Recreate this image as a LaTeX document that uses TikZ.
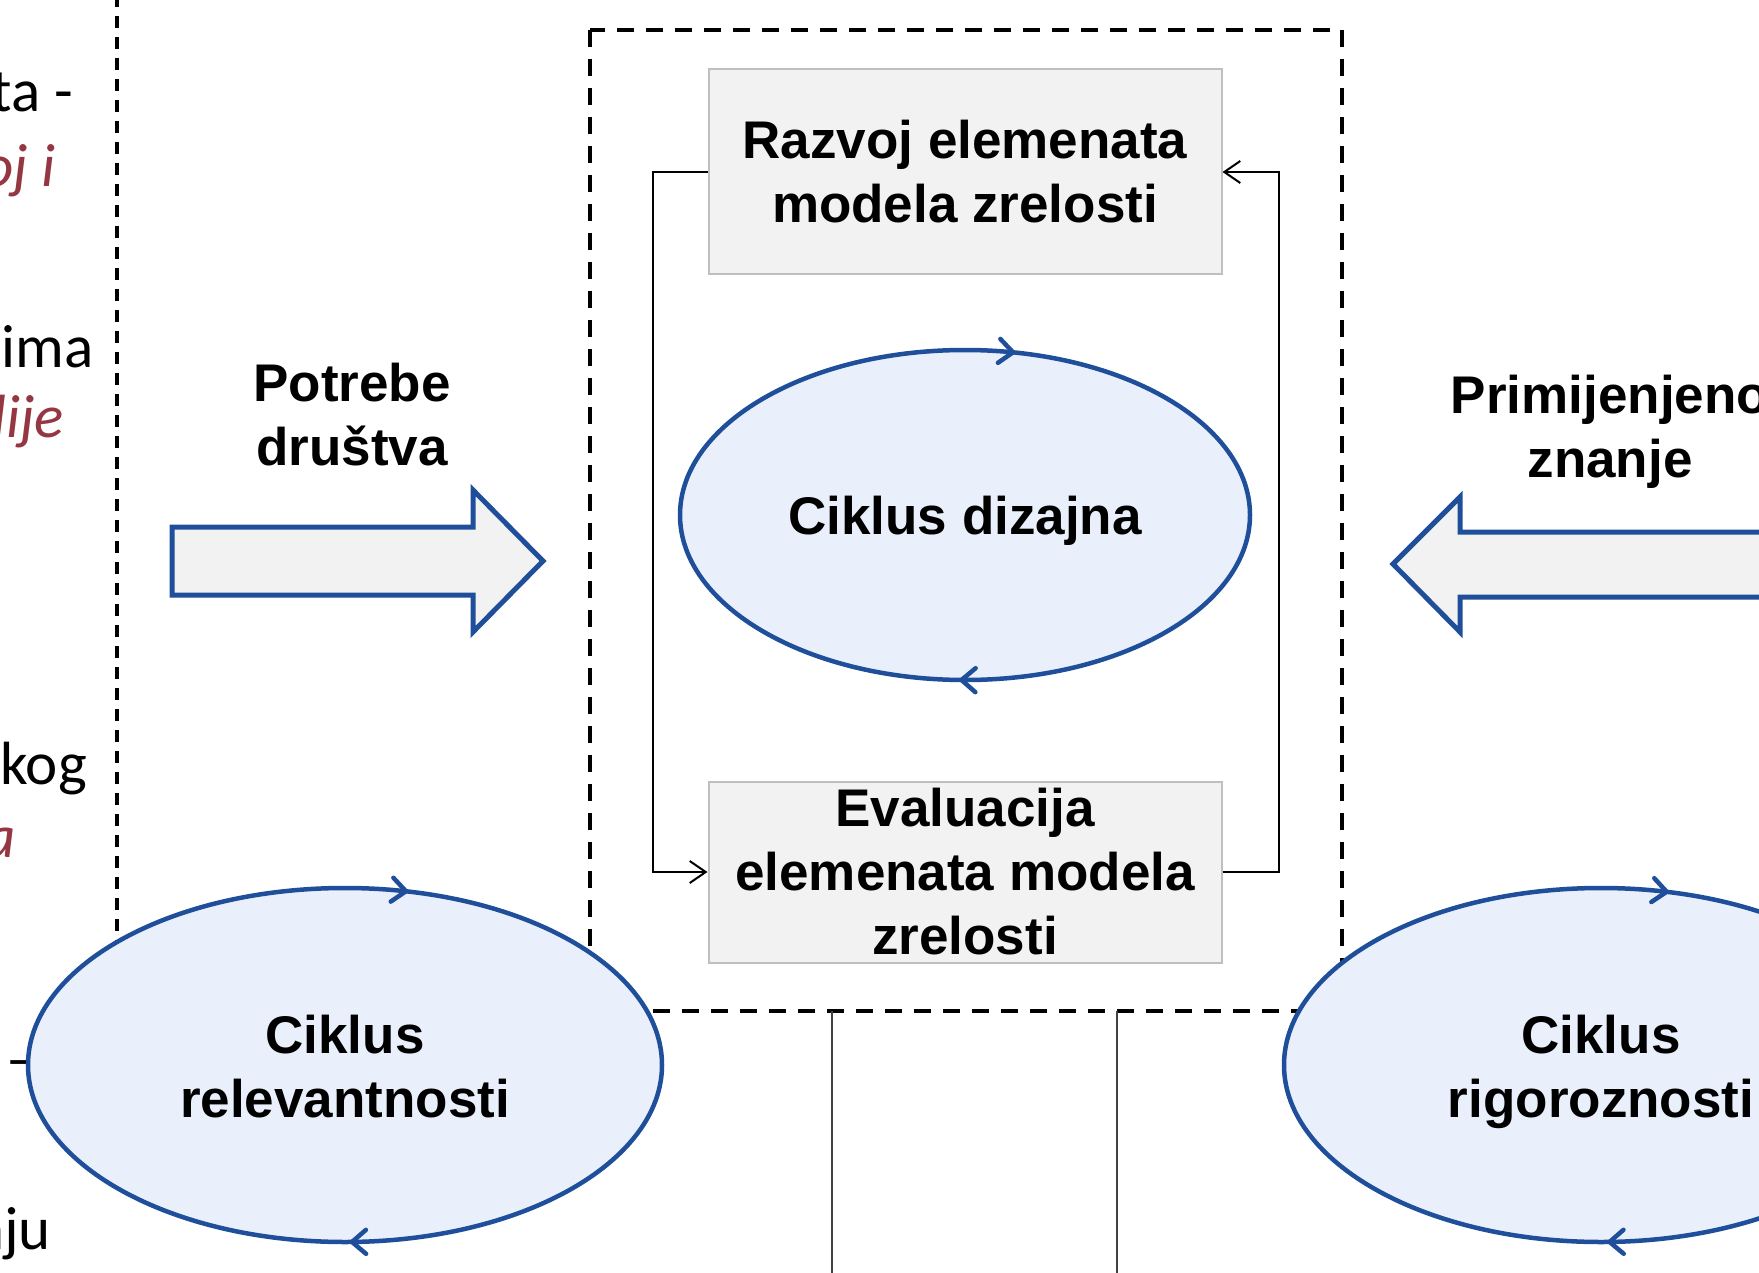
\documentclass[tikz,border=0pt]{standalone}
\usepackage{fontspec}
\setmainfont{Liberation Sans}
\newfontfamily\sidefont{Carlito}
\usepackage{tikz}
\usetikzlibrary{arrows.meta,decorations.markings}
\definecolor{cycblue}{RGB}{31,78,155}
\definecolor{cycfill}{RGB}{233,240,251}
\definecolor{boxfill}{RGB}{242,242,242}
\definecolor{boxline}{RGB}{191,191,191}
\definecolor{notered}{RGB}{149,55,67}
\tikzset{
  cyctip/.tip={Straight Barb[length=14pt,width=24pt,round]},
  lbl/.style={font=\fontsize{53}{64}\selectfont\bfseries, align=center, inner sep=0pt},
  stage/.style={lbl, draw=boxline, line width=2pt, fill=boxfill, minimum width=513pt},
  cyc/.style={color=cycblue, draw, fill=cycfill, line width=4.5pt, postaction={decorate}},
  fat/.style={draw=cycblue, fill=boxfill, line width=5pt},
  link/.style={draw=black, line width=2pt, -{Straight Barb[length=16pt,width=22pt]}},
  outerbox/.style={draw=black, line width=4pt, dash pattern=on 17pt off 12pt},
  drop/.style={draw=black!75, line width=2.5pt},
  sidenote/.style={font=\fontsize{61}{72}\selectfont\sidefont, inner sep=0pt, anchor=base east},
  sideem/.style={sidenote, font=\fontsize{61}{72}\selectfont\sidefont\itshape, text=notered}
}
\begin{document}
\begin{tikzpicture}[x=1pt,y=-1pt]
\useasboundingbox (0,0) rectangle (1759,1273);
\clip (0,0) rectangle (1759,1273);

\node[sidenote] (s1) at (73,112) {ta -};
\node[sideem] (s2) at (56,187) {oj i};
\node[sidenote] (s3) at (94,367) {ima};
\node[sideem] (s4) at (64,437) {lije};
\node[sidenote] (s5) at (87,784) {kog};
\node[sideem] (s6) at (16,857) {a};
\node[sidenote, anchor=base west] (s7) at (6,1079) {–};
\node[sidenote] (s8) at (51,1249) {nju};

\draw[draw=black, line width=4pt, dash pattern=on 12pt off 9pt] (117,-5) -- (117,1000);
\draw[outerbox] (590,30) rectangle (1342,1011);
\draw[drop] (832,1011) -- (832,1280);
\draw[drop] (1117,1011) -- (1117,1280);

\node[stage, minimum height=205pt] (razvoj) at (965,172) {Razvoj elemenata\\modela zrelosti};
\node[stage, minimum height=181pt] (evaluacija) at (965,872) {Evaluacija\\elemenata modela\\zrelosti};
\draw[link] (razvoj.west) -- ++(-55,0) |- (evaluacija.west);
\draw[link] (evaluacija.east) -- ++(56,0) |- (razvoj.east);

\filldraw[cyc, decoration={markings,
  mark=at position 0.254 with {\arrow{cyctip}},
  mark=at position 0.785 with {\arrow{cyctip}}}]
  (965,515) ellipse [x radius=285, y radius=165];
\node[lbl] (dizajn) at (965,521) {Ciklus dizajna};

\draw[fat] (172,527) -- (473,527) -- (473,490) -- (543,561) -- (473,632) -- (473,595) -- (172,595) -- cycle;
\node[lbl] (potrebe) at (352,415) {Potrebe\\društva};
\draw[fat] (1800,532) -- (1460,532) -- (1460,497) -- (1393,564) -- (1460,632) -- (1460,597) -- (1800,597);
\node[lbl] (znanje) at (1610,432) {Primijenjeno\\znanje};

\filldraw[cyc, decoration={markings,
  mark=at position 0.247 with {\arrow{cyctip}},
  mark=at position 0.79 with {\arrow{cyctip}}}]
  (345,1065) ellipse [x radius=317, y radius=177];
\node[lbl] (relevant) at (345,1067) {Ciklus\\relevantnosti};

\filldraw[cyc, decoration={markings,
  mark=at position 0.246 with {\arrow{cyctip}},
  mark=at position 0.793 with {\arrow{cyctip}}}]
  (1601,1065) ellipse [x radius=317, y radius=177];
\node[lbl] (rigor) at (1601,1072) {Ciklus\\rigoroznosti};
\end{tikzpicture}
\end{document}
